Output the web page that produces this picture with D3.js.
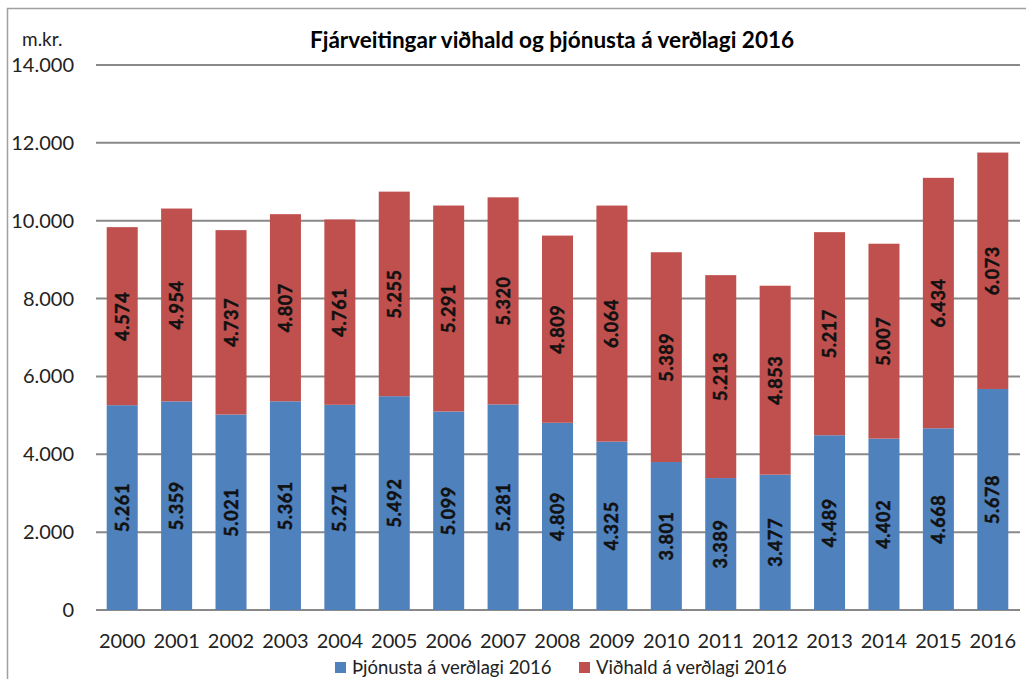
<!DOCTYPE html>
<html>
<head>
<meta charset="utf-8">
<script src="https://cdnjs.cloudflare.com/ajax/libs/d3/7.8.5/d3.min.js"></script>
<style>
  body { margin: 0; background: #fff; }
  svg text { font-family: Lato, "Open Sans", sans-serif; }
</style>
</head>
<body>
<svg width="1026" height="679"></svg>
<script>
var years = ['2000','2001','2002','2003','2004','2005','2006','2007','2008','2009','2010','2011','2012','2013','2014','2015','2016'];
var thjonusta = [5261,5359,5021,5361,5271,5492,5099,5281,4809,4325,3801,3389,3477,4489,4402,4668,5678];
var vidhald = [4574,4954,4737,4807,4761,5255,5291,5320,4809,6064,5389,5213,4853,5217,5007,6434,6073];
var yTicks = [0,2000,4000,6000,8000,10000,12000,14000];
var seriesNames = ['Þjónusta á verðlagi 2016','Viðhald á verðlagi 2016'];
var cols = ['#4F81BD','#C0504D'];

var svg = d3.select('svg');
var fmt = function(v){ return d3.format(',')(v).replace(/,/g,'.'); };

// outer frame
svg.append('path').attr('d','M7.5,679 V8.5 H1026').attr('fill','none').attr('stroke','#a0a0a0').attr('stroke-width',1.5);

var x = d3.scaleBand().domain(years).range([95,1020]).paddingInner(0.43).paddingOuter(0.215);
var y = d3.scaleLinear().domain([0,14000]).range([610,65]);

// gridlines
svg.selectAll('.grid').data(yTicks).enter().append('line')
  .attr('x1',96).attr('x2',1020)
  .attr('y1',function(d){return y(d);}).attr('y2',function(d){return y(d);})
  .attr('stroke','#898989').attr('stroke-width',2);

// y labels
svg.selectAll('.ylab').data(yTicks).enter().append('text')
  .attr('x',74).attr('y',function(d){return y(d)+7;})
  .attr('text-anchor','end').attr('font-size',20).attr('fill','#222')
  .text(function(d){ return fmt(d); });

svg.append('text').attr('x',22).attr('y',46).attr('font-size',19).attr('fill','#222').text('m.kr.');

svg.append('text').attr('x',552).attr('y',48).attr('text-anchor','middle')
  .attr('font-size',22.5).attr('font-weight','bold').attr('fill','#000')
  .text('Fjárveitingar viðhald og þjónusta á verðlagi 2016');

// bars
years.forEach(function(yr,i){
  var b = thjonusta[i], r = vidhald[i];
  svg.append('rect').attr('x',x(yr)).attr('width',x.bandwidth())
    .attr('y',y(b)).attr('height',y(0)-y(b)).attr('fill',cols[0]);
  svg.append('rect').attr('x',x(yr)).attr('width',x.bandwidth())
    .attr('y',y(b+r)).attr('height',y(b)-y(b+r)).attr('fill',cols[1]);
  var cx = x(yr)+x.bandwidth()/2;
  [[b/2,b],[b+r/2,r]].forEach(function(p){
    svg.append('text')
      .attr('transform','translate('+(cx+6.5)+','+y(p[0])+') rotate(-90)')
      .attr('text-anchor','middle').attr('font-size',18).attr('font-weight','bold')
      .attr('letter-spacing',0.6).attr('fill','#111')
      .attr('stroke','#111').attr('stroke-width',0.5)
      .text(fmt(p[1]));
  });
});

// x labels
svg.selectAll('.xlab').data(years).enter().append('text')
  .attr('x',function(d){return x(d)+x.bandwidth()/2;}).attr('y',648)
  .attr('text-anchor','middle').attr('font-size',20).attr('fill','#222')
  .text(function(d){return d;});

// legend
var lx = [335,579];
seriesNames.forEach(function(n,i){
  svg.append('rect').attr('x',lx[i]).attr('y',662).attr('width',11).attr('height',11).attr('fill',cols[i]);
  svg.append('text').attr('x',lx[i]+17).attr('y',674).attr('font-size',18.5).attr('fill','#222').text(n);
});
</script>
</body>
</html>
